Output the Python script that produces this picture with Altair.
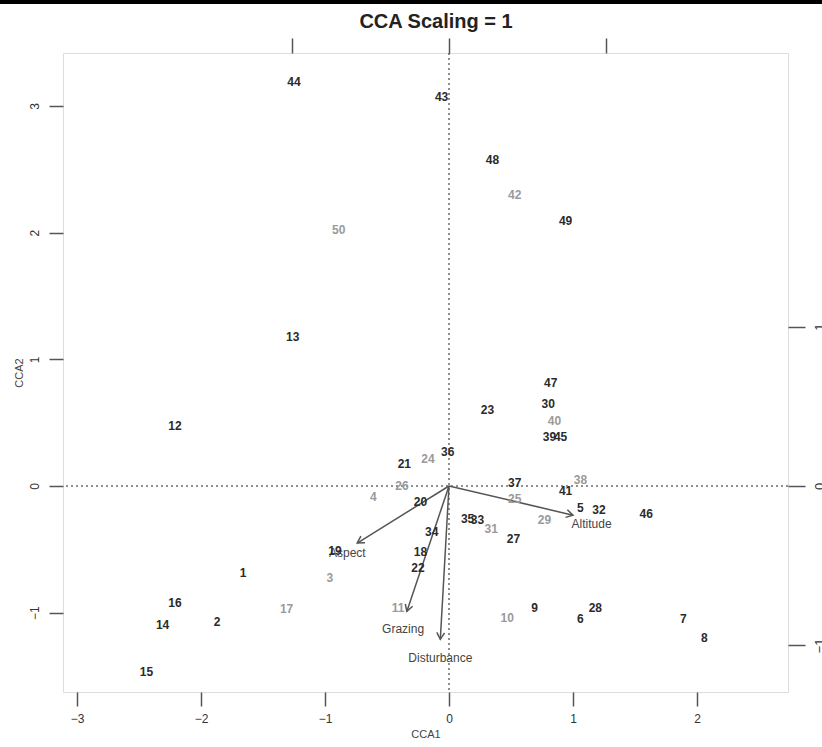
import math
import altair as alt
import pandas as pd

# ---------------- data ----------------
site_labels = ["44", "43", "48", "42", "49", "50", "13", "47", "30", "23",
               "40", "39", "45", "36", "21", "24", "26", "4", "20", "37",
               "25", "41", "38", "5", "32", "46", "29", "35", "33", "31",
               "27", "34", "18", "19", "3", "22", "1", "16", "17", "14",
               "2", "11", "10", "9", "28", "6", "7", "8", "15", "12"]
site_x = [-1.25, -0.06, 0.35, 0.53, 0.94, -0.89, -1.26, 0.82, 0.80, 0.31,
          0.85, 0.81, 0.90, -0.01, -0.36, -0.17, -0.38, -0.61, -0.23, 0.53,
          0.53, 0.94, 1.06, 1.06, 1.21, 1.59, 0.77, 0.15, 0.23, 0.34,
          0.52, -0.14, -0.23, -0.92, -0.96, -0.25, -1.66, -2.21, -1.31, -2.31,
          -1.87, -0.41, 0.47, 0.69, 1.18, 1.06, 1.89, 2.06, -2.44, -2.21]
site_y = [3.19, 3.07, 2.57, 2.30, 2.09, 2.02, 1.18, 0.81, 0.65, 0.60,
          0.51, 0.39, 0.39, 0.27, 0.17, 0.21, 0.00, -0.09, -0.13, 0.02,
          -0.10, -0.04, 0.05, -0.17, -0.19, -0.22, -0.27, -0.26, -0.27, -0.34,
          -0.42, -0.36, -0.52, -0.51, -0.73, -0.65, -0.69, -0.92, -0.97, -1.10,
          -1.07, -0.96, -1.04, -0.96, -0.96, -1.05, -1.05, -1.20, -1.47, 0.47]
site_tone = ["dark", "dark", "dark", "gray", "dark", "gray", "dark", "dark", "dark", "dark",
             "gray", "dark", "dark", "dark", "dark", "gray", "gray", "gray", "dark", "dark",
             "gray", "dark", "gray", "dark", "dark", "dark", "gray", "dark", "dark", "gray",
             "dark", "dark", "dark", "dark", "gray", "dark", "dark", "dark", "gray", "dark",
             "dark", "gray", "gray", "dark", "dark", "dark", "dark", "dark", "dark", "dark"]

arrow_names = ["Altitude", "Aspect", "Grazing", "Disturbance"]
arrow_x = [1.00, -0.74, -0.34, -0.07]
arrow_y = [-0.23, -0.45, -0.99, -1.21]
arrow_label_x = [1.15, -0.82, -0.37, -0.07]
arrow_label_y = [-0.30, -0.53, -1.13, -1.36]

x_ticks = [-3, -2, -1, 0, 1, 2]
y_ticks = [-1, 0, 1, 2, 3]
second_ticks = [-1, 0, 1]

title_text = "CCA Scaling = 1"

# ---------------- layout constants ----------------
W, H = 725, 639
XMIN, XMAX = -3.113, 2.734
YMIN, YMAX = -1.626, 3.418
SEC_X = 1.263   # primary units per secondary unit (top axis)
SEC_Y = 1.258   # primary units per secondary unit (right axis)
FONT = "Liberation Sans"

xs = alt.Scale(domain=[XMIN, XMAX], nice=False, zero=False)
ys = alt.Scale(domain=[YMIN, YMAX], nice=False, zero=False)

sites = pd.DataFrame({"label": site_labels, "x": site_x, "y": site_y, "tone": site_tone})

px_x = W / (XMAX - XMIN)
px_y = H / (YMAX - YMIN)
angles = [(math.degrees(math.atan2(ax * px_x, ay * px_y)) + 360) % 360
          for ax, ay in zip(arrow_x, arrow_y)]
arrows = pd.DataFrame({"name": arrow_names, "x0": [0.0] * 4, "y0": [0.0] * 4,
                       "x": arrow_x, "y": arrow_y, "lx": arrow_label_x,
                       "ly": arrow_label_y, "angle": angles})

zero = pd.DataFrame({"v": [0.0]})
title_df = pd.DataFrame({"t": [title_text]})

x_axis = alt.Axis(values=x_ticks, format="d", tickSize=14, tickColor="#555", tickWidth=1.5,
                  domain=False, grid=False, labelFontSize=12, labelColor="#333",
                  labelFont=FONT, labelPadding=7, labelOverlap=False, labelFlush=False,
                  title="CCA1", titleFont=FONT, titleFontSize=11,
                  titleFontWeight="normal", titleColor="#444", titlePadding=4)
y_axis = alt.Axis(values=y_ticks, format="d", tickSize=14, tickColor="#555", tickWidth=1.5,
                  domain=False, grid=False, labelFontSize=12, labelColor="#333",
                  labelFont=FONT, labelAngle=270, labelAlign="center",
                  labelBaseline="bottom", labelPadding=8, labelOverlap=False,
                  labelFlush=False, title="CCA2", titleFont=FONT, titleFontSize=11,
                  titleFontWeight="normal", titleColor="#444", titlePadding=4)

# dotted zero lines
hline = alt.Chart(zero).mark_rule(color="#222", strokeDash=[2, 3], strokeWidth=1).encode(
    y=alt.Y("v:Q", scale=ys, axis=y_axis))
vline = alt.Chart(zero).mark_rule(color="#222", strokeDash=[2, 3], strokeWidth=1).encode(
    x=alt.X("v:Q", scale=xs, axis=x_axis))

# arrows
arrow_lines = alt.Chart(arrows).mark_rule(color="#555", strokeWidth=1.5).encode(
    x=alt.X("x0:Q", scale=xs), y=alt.Y("y0:Q", scale=ys),
    x2="x:Q", y2="y:Q")
arrow_heads = alt.Chart(arrows).mark_point(
    shape="M -0.58 1 L 0 0 L 0.58 1", filled=False, color="#555",
    strokeWidth=1.5, size=180, opacity=1).encode(
    x=alt.X("x:Q", scale=xs), y=alt.Y("y:Q", scale=ys),
    angle=alt.Angle("angle:Q", scale=None))
arrow_text = alt.Chart(arrows).mark_text(font=FONT, fontSize=12, color="#444").encode(
    x=alt.X("lx:Q", scale=xs), y=alt.Y("ly:Q", scale=ys), text="name:N")

# site labels
site_text = alt.Chart(sites).mark_text(font=FONT, fontSize=12, fontWeight="bold").encode(
    x=alt.X("x:Q", scale=xs), y=alt.Y("y:Q", scale=ys), text="label:N",
    color=alt.Color("tone:N", scale=alt.Scale(domain=["dark", "gray"],
                                              range=["#2b2b2b", "#9a9a9a"]), legend=None))

# top screen band
band = alt.Chart(zero).mark_rule(color="#000", strokeWidth=4).encode(
    x=alt.value(-63), x2=alt.value(W + 34), y=alt.value(-51))

# title as a text mark above the frame
title = alt.Chart(title_df).mark_text(font=FONT, fontSize=20, fontWeight="bold",
                                      color="#222", baseline="middle").encode(
    x=alt.value(373), y=alt.value(-31), text="t:N")

primary = alt.layer(hline, vline, arrow_lines, arrow_heads, arrow_text, site_text, band, title)

# secondary (species-scale) axes: top and right
sec = alt.Chart(zero).mark_point(opacity=0).encode(
    x=alt.X("v:Q", scale=alt.Scale(domain=[XMIN / SEC_X, XMAX / SEC_X], nice=False, zero=False),
            axis=alt.Axis(orient="top", values=second_ticks, tickSize=15, tickColor="#555",
                          tickWidth=1.5, domain=False, grid=False, labels=False, title=None)),
    y=alt.Y("v:Q", scale=alt.Scale(domain=[YMIN / SEC_Y, YMAX / SEC_Y], nice=False, zero=False),
            axis=alt.Axis(orient="right", values=second_ticks, format="d", tickSize=17,
                          tickColor="#555", tickWidth=1.5, domain=False, grid=False,
                          labelFontSize=13, labelColor="#333", labelFont=FONT,
                          labelAngle=270, labelAlign="center", labelBaseline="top",
                          labelPadding=8, labelOverlap=False, labelFlush=False, title=None)))

chart = alt.layer(primary, sec).resolve_scale(x="independent", y="independent").properties(
    width=W, height=H,
    autosize=alt.AutoSizeParams(type="none"),
    padding={"left": 63, "top": 53, "right": 34, "bottom": 55},
).configure_view(stroke="#555", strokeWidth=2).configure(background="white")

chart.save("out.html", embed_options={"renderer": "svg", "actions": False})
